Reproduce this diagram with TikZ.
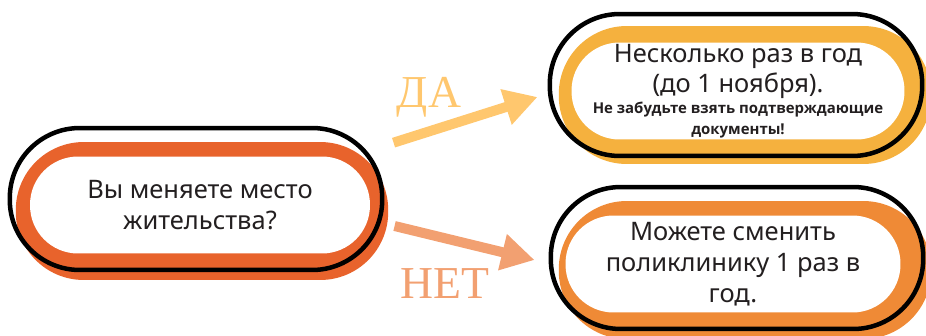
\documentclass[tikz,border=0pt]{standalone}
\usepackage{fontspec}
\setmainfont{Noto Sans}
\newfontfamily\notefamily{Open Sans}
\newfontfamily\answerfont{Liberation Serif}
\newcommand\notefont{\notefamily\bfseries\fontsize{8.5}{10.8}\selectfont}
\usetikzlibrary{arrows.meta}

\definecolor{ink}{HTML}{231F20}
\definecolor{qorange}{HTML}{E8632C}
\definecolor{yesorange}{HTML}{F5B13E}
\definecolor{noorange}{HTML}{EF8A36}
\definecolor{yesarrow}{HTML}{FFC76E}
\definecolor{noarrow}{HTML}{F2A071}

\begin{document}
\begin{tikzpicture}[x=0.02cm, y=-0.02cm,
    brushfill/.style={inner sep=0pt, rounded corners=1.36cm, minimum height=2.76cm, minimum width=7.45cm},
    brushline/.style={draw=black, line width=0.09cm, rounded corners=1.4cm, minimum height=2.84cm, minimum width=7.45cm, inner sep=0pt},
    textpill/.style={fill=white, text=ink, align=center, inner sep=0pt, rounded corners=0.96cm, minimum height=1.94cm, font=\fontsize{14.5}{17.6}\selectfont},
    answer/.style={font=\answerfont\fontsize{26}{30}\selectfont},
    flow/.style={line width=0.2cm, -{Triangle[length=0.66cm, width=0.7cm]}}]

    \useasboundingbox (0,0) rectangle (926,335);

    \node[brushfill, fill=qorange] (qfill) at (202,211) {};
    \node[brushline] (qline) at (196,199) {};
    \node[textpill, minimum width=6.8cm] (q) at (200,205) {Вы меняете место\\жительства?};

    \node[brushfill, fill=yesorange] (yesfill) at (745,95) {};
    \node[brushline] (yesline) at (736,85) {};
    \node[textpill, minimum width=6.66cm] (yes) at (738,91)
        {Несколько раз в год\\[-0.5pt](до 1 ноября).\\[-5.5pt]\notefont Не забудьте взять подтверждающие\\[-6pt]\notefont документы!};

    \node[brushfill, fill=noorange] (nofill) at (745,270) {};
    \node[brushline] (noline) at (737,258) {};
    \node[textpill, minimum width=6.7cm] (no) at (733,264)
        {Можете сменить\\поликлинику 1 раз в\\год.};

    \draw[flow, yesarrow] ([shift={(5,1)}]qfill.north east) -- ([shift={(-10,12)}]yesline.west);
    \draw[flow, noarrow] ([shift={(6,15)}]qfill.east) -- ([shift={(-14,2)}]noline.west);

    \node[answer, text=yesarrow] (da) at (429,97) {ДА};
    \node[answer, text=noarrow] (net) at (445,284) {НЕТ};
\end{tikzpicture}
\end{document}
